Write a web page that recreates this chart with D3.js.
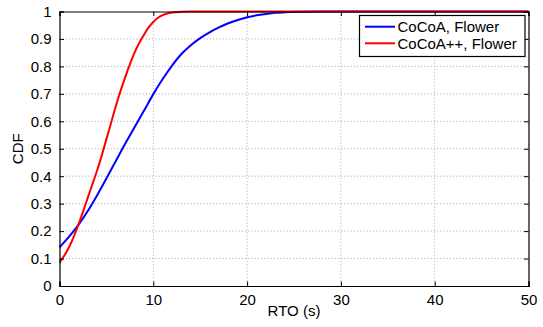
<!DOCTYPE html>
<html>
<head>
<meta charset="utf-8">
<script src="https://cdn.jsdelivr.net/npm/d3@7"></script>
<style>
  html, body { margin: 0; padding: 0; background: #fff; }
  svg { display: block; }
  text { font-family: "Liberation Sans", Arial, Helvetica, sans-serif; fill: #000; }
</style>
</head>
<body>
<svg id="chart" width="543" height="327"></svg>
<script>
// RTO samples (seconds) and their empirical CDF values
const cocoaRto = [0, 1, 2, 3, 4, 5, 6, 7, 8, 9, 10, 11, 12, 13, 14, 15, 16, 17, 18, 19, 20, 21, 22, 23, 24, 26, 28, 30, 40, 50];
const cocoaCdf = [0.141, 0.179, 0.222, 0.272, 0.330, 0.392, 0.455, 0.518, 0.578, 0.638, 0.699, 0.754, 0.803, 0.845, 0.877, 0.903, 0.924, 0.942, 0.957, 0.969, 0.979, 0.986, 0.991, 0.995, 0.997, 0.999, 1, 1, 1, 1];

const cocoaPPRto = [0, 0.5, 1, 1.5, 2, 2.5, 3, 3.5, 4, 4.5, 5, 5.5, 6, 6.5, 7, 7.5, 8, 8.5, 9, 9.5, 10, 10.5, 11, 11.5, 12, 13, 14, 20, 30, 40, 50];
const cocoaPPCdf = [0.085, 0.11, 0.14, 0.178, 0.222, 0.27, 0.32, 0.37, 0.42, 0.475, 0.535, 0.595, 0.655, 0.71, 0.76, 0.807, 0.85, 0.885, 0.915, 0.942, 0.962, 0.977, 0.987, 0.993, 0.996, 0.999, 1, 1, 1, 1, 1];

const seriesNames = ["CoCoA, Flower", "CoCoA++, Flower"];
const seriesColors = ["#0000ff", "#ff0000"];

const xTicks = [0, 10, 20, 30, 40, 50];
const yTicks = [0, 0.1, 0.2, 0.3, 0.4, 0.5, 0.6, 0.7, 0.8, 0.9, 1];
const xTitle = "RTO (s)";
const yTitle = "CDF";

const svg = d3.select("#chart");
const plotLeft = 59.5, plotRight = 528.5, plotTop = 11.5, plotBottom = 286;

const x = d3.scaleLinear().domain([0, 50]).range([plotLeft, plotRight]);
const y = d3.scaleLinear().domain([0, 1]).range([plotBottom, plotTop]);

const g = svg.append("g");

// dotted grid
g.append("g").selectAll("line").data(xTicks.slice(1, -1)).join("line")
  .attr("x1", d => x(d)).attr("x2", d => x(d))
  .attr("y1", plotTop).attr("y2", plotBottom)
  .attr("stroke", "#a8a8a8").attr("stroke-width", 1).attr("stroke-dasharray", "1,2.2");
g.append("g").selectAll("line").data(yTicks.slice(1, -1)).join("line")
  .attr("x1", plotLeft).attr("x2", plotRight)
  .attr("y1", d => y(d)).attr("y2", d => y(d))
  .attr("stroke", "#a8a8a8").attr("stroke-width", 1).attr("stroke-dasharray", "1,2.2");

// curves
const line = d3.line().x(d => x(d[0])).y(d => y(d[1])).curve(d3.curveMonotoneX);
const series = [
  d3.zip(cocoaRto, cocoaCdf),
  d3.zip(cocoaPPRto, cocoaPPCdf)
];
series.forEach((pts, i) => {
  g.append("path").datum(pts)
    .attr("d", line)
    .attr("fill", "none")
    .attr("stroke", seriesColors[i])
    .attr("stroke-width", 2);
});

// axes box with inward ticks on all sides
const tickLen = 4.5;
const axBottom = d3.axisBottom(x).tickValues(xTicks).tickSize(-tickLen).tickPadding(8).tickFormat(d3.format("d"));
const axTop = d3.axisTop(x).tickValues(xTicks).tickSize(-tickLen).tickFormat("");
const axLeft = d3.axisLeft(y).tickValues(yTicks).tickSize(-tickLen).tickPadding(8).tickFormat(d => d === 0 || d === 1 ? d3.format("d")(d) : d3.format(".1f")(d));
const axRight = d3.axisRight(y).tickValues(yTicks).tickSize(-tickLen).tickFormat("");

function styleAxis(sel) {
  sel.select(".domain").attr("stroke", "#000").attr("stroke-width", 1.2);
  sel.selectAll(".tick line").attr("stroke", "#000").attr("stroke-width", 1);
  sel.selectAll(".tick text").attr("font-size", 15).attr("font-family", "Liberation Sans, Arial, sans-serif").attr("fill", "#000");
}
g.append("g").attr("transform", `translate(0,${plotBottom})`).call(axBottom).call(styleAxis);
g.append("g").attr("transform", `translate(0,${plotTop})`).call(axTop).call(styleAxis);
g.append("g").attr("transform", `translate(${plotLeft},0)`).call(axLeft).call(styleAxis);
g.append("g").attr("transform", `translate(${plotRight},0)`).call(axRight).call(styleAxis);

// axis titles
svg.append("text").attr("x", (plotLeft + plotRight) / 2).attr("y", 316)
  .attr("text-anchor", "middle").attr("font-size", 15).text(xTitle);
svg.append("text").attr("transform", `translate(23,${(plotTop + plotBottom) / 2}) rotate(-90)`)
  .attr("text-anchor", "middle").attr("font-size", 15).text(yTitle);

// legend
const lg = svg.append("g");
lg.append("rect").attr("x", 359.5).attr("y", 15.5).attr("width", 165.5).attr("height", 41)
  .attr("fill", "#fff").attr("stroke", "#000").attr("stroke-width", 1.2);
seriesNames.forEach((name, i) => {
  const cy = 26.7 + i * 16.6;
  lg.append("line").attr("x1", 365).attr("x2", 395).attr("y1", cy).attr("y2", cy)
    .attr("stroke", seriesColors[i]).attr("stroke-width", 2);
  lg.append("text").attr("x", 397.5).attr("y", cy + 5.3).attr("font-size", 15).text(name);
});
</script>
</body>
</html>
